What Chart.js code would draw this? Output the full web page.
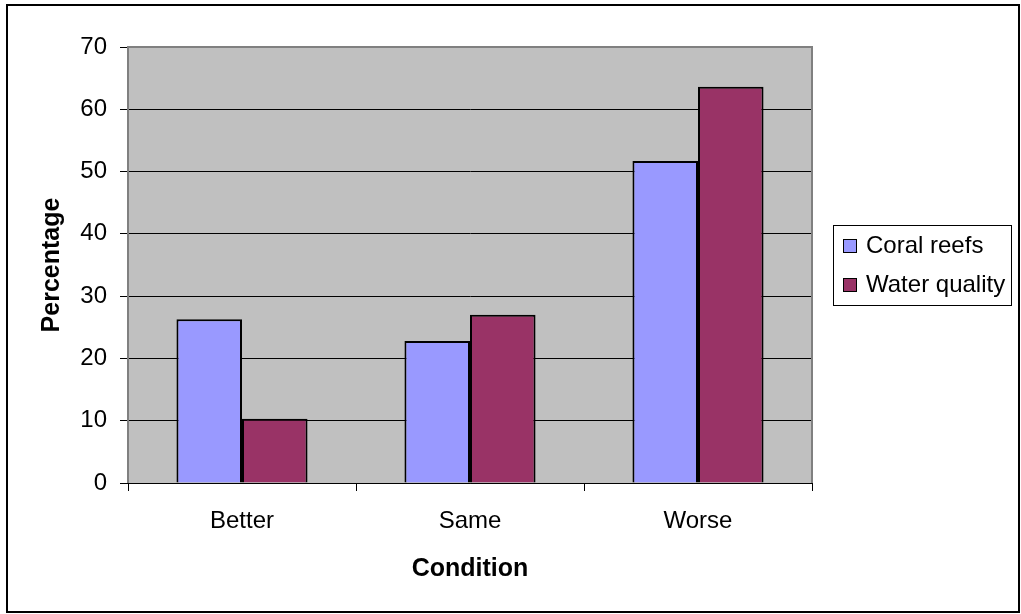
<!DOCTYPE html>
<html>
<head>
<meta charset="utf-8">
<script src="https://cdn.jsdelivr.net/npm/chart.js@4/dist/chart.umd.min.js"></script>
<style>
  html, body { margin: 0; padding: 0; background: #fff; }
  canvas { display: block; }
</style>
</head>
<body>
<canvas id="chart" width="1021" height="614"></canvas>
<script>
// Data
const categories = ['Better', 'Same', 'Worse'];
const coralReefs = [26.3, 22.8, 51.7];
const waterQuality = [10.3, 27.0, 63.6];
const seriesLabels = ['Coral reefs', 'Water quality'];
const seriesColors = ['#9999FF', '#993366'];
const yMin = 0, yMax = 70, yStep = 10;

const FONT = "'Liberation Sans', Arial, sans-serif";

// Plot background + gray frame (Excel style)
const plotFrame = {
    id: 'plotFrame',
    beforeDraw(chart) {
        const { ctx, chartArea: a } = chart;
        ctx.save();
        ctx.fillStyle = '#fff';
        ctx.fillRect(0, 0, chart.width, chart.height);
        ctx.fillStyle = '#C0C0C0';
        ctx.fillRect(a.left, a.top, a.right - a.left, a.bottom - a.top);
        ctx.restore();
    },
    beforeDatasetsDraw(chart) {
        const { ctx, chartArea: a } = chart;
        ctx.save();
        ctx.strokeStyle = '#808080';
        ctx.lineWidth = 2;
        ctx.beginPath();
        ctx.moveTo(a.left, a.bottom);
        ctx.lineTo(a.left, a.top);
        ctx.lineTo(a.right, a.top);
        ctx.lineTo(a.right, a.bottom);
        ctx.stroke();
        ctx.restore();
    },
    afterDraw(chart) {
        const { ctx } = chart;
        ctx.save();
        // outer border
        ctx.strokeStyle = '#000';
        ctx.lineWidth = 2;
        ctx.strokeRect(7, 5, 1012, 607);

        // legend box
        ctx.lineWidth = 1;
        ctx.strokeRect(833.5, 225.5, 178, 80);
        ctx.font = '24px ' + FONT;
        ctx.textBaseline = 'middle';
        ctx.textAlign = 'left';
        chart.data.datasets.forEach((ds, i) => {
            const cy = 246 + i * 39;
            ctx.fillStyle = ds.backgroundColor;
            ctx.fillRect(843, cy - 7, 14, 14);
            ctx.strokeStyle = '#000';
            ctx.strokeRect(843.5, cy - 6.5, 13, 13);
            ctx.fillStyle = '#000';
            ctx.fillText(ds.label, 866, cy);
        });
        ctx.restore();
    }
};

new Chart(document.getElementById('chart'), {
    type: 'bar',
    data: {
        labels: categories,
        datasets: [
            {
                label: seriesLabels[0],
                data: coralReefs,
                backgroundColor: seriesColors[0],
                borderColor: '#000',
                borderWidth: 2,
                barPercentage: 1.0,
                categoryPercentage: 0.575
            },
            {
                label: seriesLabels[1],
                data: waterQuality,
                backgroundColor: seriesColors[1],
                borderColor: '#000',
                borderWidth: 2,
                barPercentage: 1.0,
                categoryPercentage: 0.575
            }
        ]
    },
    options: {
        responsive: false,
        animation: false,
        layout: { padding: { left: 0, right: 209, top: 47, bottom: 0 } },
        plugins: {
            legend: { display: false },
            tooltip: { enabled: false }
        },
        scales: {
            x: {
                grid: { offset: true, drawOnChartArea: false, drawTicks: true, tickLength: 8, color: '#000' },
                border: { color: '#000', width: 1 },
                ticks: { color: '#000', font: { family: FONT, size: 24 }, padding: 16 },
                title: {
                    display: true, text: 'Condition', color: '#000',
                    font: { family: FONT, size: 25, weight: 'bold' },
                    padding: { top: 0, bottom: 30 }
                },
                afterFit(scale) { scale.height = 131; }
            },
            y: {
                min: yMin,
                max: yMax,
                grid: { color: '#000', tickLength: 8, lineWidth: 1 },
                border: { color: '#000', width: 1 },
                ticks: { stepSize: yStep, color: '#000', font: { family: FONT, size: 24 }, padding: 13 },
                title: {
                    display: true, text: 'Percentage', color: '#000',
                    font: { family: FONT, size: 25, weight: 'bold' },
                    padding: { top: 37, bottom: 0 }
                },
                afterFit(scale) { scale.width = 128; }
            }
        }
    },
    plugins: [plotFrame]
});
</script>
</body>
</html>
